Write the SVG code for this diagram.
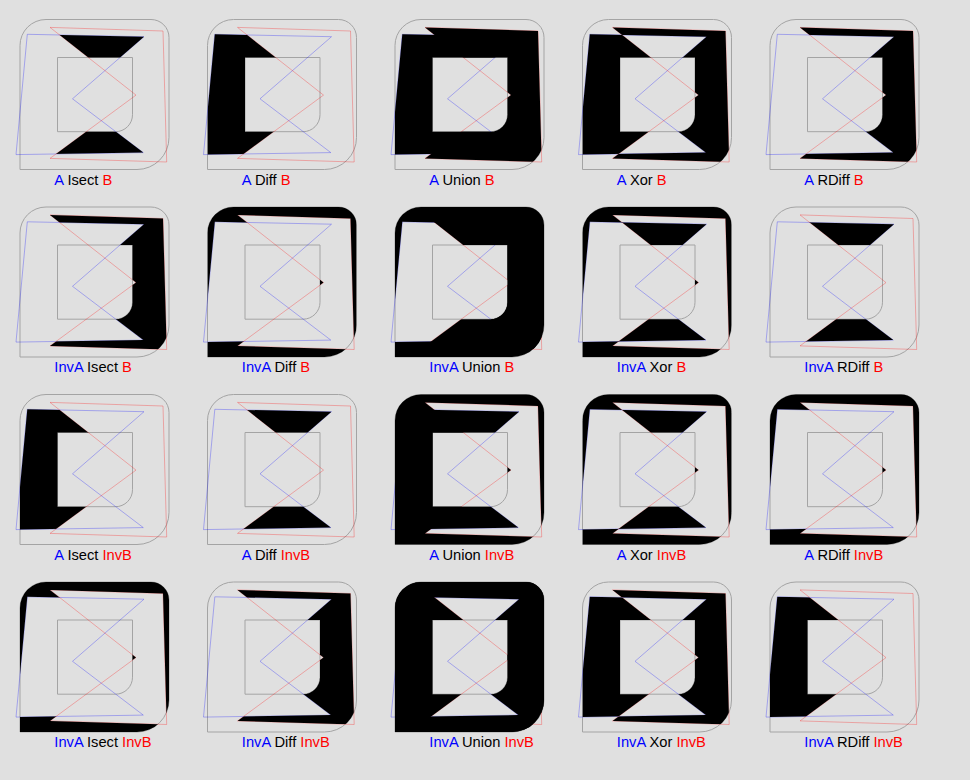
<svg xmlns="http://www.w3.org/2000/svg" xmlns:xlink="http://www.w3.org/1999/xlink" width="970" height="780" viewBox="0 0 970 780">
<style>
.f{fill:none;stroke:#a4a4a4;stroke-width:1}
.a{fill:none;stroke:#0000ff;stroke-opacity:.28;stroke-width:1}
.b{fill:none;stroke:#ff0000;stroke-opacity:.28;stroke-width:1}
.k{fill:#000}
text{font-family:"Liberation Sans",Arial,sans-serif;font-size:14.7px;fill:#000}
.ta{fill:#0000ff}.tb{fill:#ff0000}
</style>
<defs>
<path id="pA" d="M27.3,34.3 L144,36.7 L72.5,98.8 L143.3,152.6 L16,154.6 Z"/>
<path id="pB" d="M50,27.4 L163,31 L166.7,162 L50,158.4 L136,95.1 Z"/>
<path id="pF" d="M20,45.5 A26,26 0 0 1 46,19.5 H151 A18,18 0 0 1 169,37.5 V137.5 A32,32 0 0 1 137,169.5 H20 Z M57.5,57.5 H132.5 V114.7 A17,17 0 0 1 115.5,131.7 H57.5 Z"/>
<rect id="full" x="0" y="0" width="190" height="190"/>
<clipPath id="frame"><path clip-rule="evenodd" d="M20,45.5 A26,26 0 0 1 46,19.5 H151 A18,18 0 0 1 169,37.5 V137.5 A32,32 0 0 1 137,169.5 H20 Z M57.5,57.5 H132.5 V114.7 A17,17 0 0 1 115.5,131.7 H57.5 Z"/></clipPath>
<clipPath id="cA"><path d="M27.3,34.3 L144,36.7 L72.5,98.8 L143.3,152.6 L16,154.6 Z"/></clipPath>
<clipPath id="cB"><path d="M50,27.4 L163,31 L166.7,162 L50,158.4 L136,95.1 Z"/></clipPath>
<clipPath id="cnA"><path clip-rule="evenodd" d="M0,0 H190 V190 H0 Z M27.3,34.3 L144,36.7 L72.5,98.8 L143.3,152.6 L16,154.6 Z"/></clipPath>
<clipPath id="cnB"><path clip-rule="evenodd" d="M0,0 H190 V190 H0 Z M50,27.4 L163,31 L166.7,162 L50,158.4 L136,95.1 Z"/></clipPath>
<g id="base"><use xlink:href="#pF" class="f"/><use xlink:href="#pA" class="a"/><use xlink:href="#pB" class="b"/></g>
</defs>
<rect width="970" height="780" fill="#e0e0e0"/>

<!-- Row 1: A , B -->
<g id="r1c1"><use xlink:href="#base"/>
<g clip-path="url(#frame)"><g clip-path="url(#cA)"><use xlink:href="#full" class="k" clip-path="url(#cB)"/></g></g>
<text x="54.3" y="184.5"><tspan class="ta">A</tspan> Isect <tspan class="tb">B</tspan></text></g>
<g id="r1c2" transform="translate(187.5,0)"><use xlink:href="#base"/>
<g clip-path="url(#frame)"><g clip-path="url(#cA)"><use xlink:href="#full" class="k" clip-path="url(#cnB)"/></g></g>
<text x="54.3" y="184.5"><tspan class="ta">A</tspan> Diff <tspan class="tb">B</tspan></text></g>
<g id="r1c3" transform="translate(375,0)"><use xlink:href="#base"/>
<g clip-path="url(#frame)"><use xlink:href="#full" class="k" clip-path="url(#cA)"/><use xlink:href="#full" class="k" clip-path="url(#cB)"/></g>
<text x="54.3" y="184.5"><tspan class="ta">A</tspan> Union <tspan class="tb">B</tspan></text></g>
<g id="r1c4" transform="translate(562.5,0)"><use xlink:href="#base"/>
<g clip-path="url(#frame)"><g clip-path="url(#cA)"><use xlink:href="#full" class="k" clip-path="url(#cnB)"/></g><g clip-path="url(#cnA)"><use xlink:href="#full" class="k" clip-path="url(#cB)"/></g></g>
<text x="54.3" y="184.5"><tspan class="ta">A</tspan> Xor <tspan class="tb">B</tspan></text></g>
<g id="r1c5" transform="translate(750,0)"><use xlink:href="#base"/>
<g clip-path="url(#frame)"><g clip-path="url(#cnA)"><use xlink:href="#full" class="k" clip-path="url(#cB)"/></g></g>
<text x="54.3" y="184.5"><tspan class="ta">A</tspan> RDiff <tspan class="tb">B</tspan></text></g>

<!-- Row 2: InvA , B -->
<g id="r2c1" transform="translate(0,187.5)"><use xlink:href="#base"/>
<g clip-path="url(#frame)"><g clip-path="url(#cnA)"><use xlink:href="#full" class="k" clip-path="url(#cB)"/></g></g>
<text x="54.3" y="184.5"><tspan class="ta">InvA</tspan> Isect <tspan class="tb">B</tspan></text></g>
<g id="r2c2" transform="translate(187.5,187.5)"><use xlink:href="#base"/>
<g clip-path="url(#frame)"><g clip-path="url(#cnA)"><use xlink:href="#full" class="k" clip-path="url(#cnB)"/></g></g>
<text x="54.3" y="184.5"><tspan class="ta">InvA</tspan> Diff <tspan class="tb">B</tspan></text></g>
<g id="r2c3" transform="translate(375,187.5)"><use xlink:href="#base"/>
<g clip-path="url(#frame)"><use xlink:href="#full" class="k" clip-path="url(#cnA)"/><use xlink:href="#full" class="k" clip-path="url(#cB)"/></g>
<text x="54.3" y="184.5"><tspan class="ta">InvA</tspan> Union <tspan class="tb">B</tspan></text></g>
<g id="r2c4" transform="translate(562.5,187.5)"><use xlink:href="#base"/>
<g clip-path="url(#frame)"><g clip-path="url(#cnA)"><use xlink:href="#full" class="k" clip-path="url(#cnB)"/></g><g clip-path="url(#cA)"><use xlink:href="#full" class="k" clip-path="url(#cB)"/></g></g>
<text x="54.3" y="184.5"><tspan class="ta">InvA</tspan> Xor <tspan class="tb">B</tspan></text></g>
<g id="r2c5" transform="translate(750,187.5)"><use xlink:href="#base"/>
<g clip-path="url(#frame)"><g clip-path="url(#cA)"><use xlink:href="#full" class="k" clip-path="url(#cB)"/></g></g>
<text x="54.3" y="184.5"><tspan class="ta">InvA</tspan> RDiff <tspan class="tb">B</tspan></text></g>

<!-- Row 3: A , InvB -->
<g id="r3c1" transform="translate(0,375)"><use xlink:href="#base"/>
<g clip-path="url(#frame)"><g clip-path="url(#cA)"><use xlink:href="#full" class="k" clip-path="url(#cnB)"/></g></g>
<text x="54.3" y="184.5"><tspan class="ta">A</tspan> Isect <tspan class="tb">InvB</tspan></text></g>
<g id="r3c2" transform="translate(187.5,375)"><use xlink:href="#base"/>
<g clip-path="url(#frame)"><g clip-path="url(#cA)"><use xlink:href="#full" class="k" clip-path="url(#cB)"/></g></g>
<text x="54.3" y="184.5"><tspan class="ta">A</tspan> Diff <tspan class="tb">InvB</tspan></text></g>
<g id="r3c3" transform="translate(375,375)"><use xlink:href="#base"/>
<g clip-path="url(#frame)"><use xlink:href="#full" class="k" clip-path="url(#cA)"/><use xlink:href="#full" class="k" clip-path="url(#cnB)"/></g>
<text x="54.3" y="184.5"><tspan class="ta">A</tspan> Union <tspan class="tb">InvB</tspan></text></g>
<g id="r3c4" transform="translate(562.5,375)"><use xlink:href="#base"/>
<g clip-path="url(#frame)"><g clip-path="url(#cA)"><use xlink:href="#full" class="k" clip-path="url(#cB)"/></g><g clip-path="url(#cnA)"><use xlink:href="#full" class="k" clip-path="url(#cnB)"/></g></g>
<text x="54.3" y="184.5"><tspan class="ta">A</tspan> Xor <tspan class="tb">InvB</tspan></text></g>
<g id="r3c5" transform="translate(750,375)"><use xlink:href="#base"/>
<g clip-path="url(#frame)"><g clip-path="url(#cnA)"><use xlink:href="#full" class="k" clip-path="url(#cnB)"/></g></g>
<text x="54.3" y="184.5"><tspan class="ta">A</tspan> RDiff <tspan class="tb">InvB</tspan></text></g>

<!-- Row 4: InvA , InvB -->
<g id="r4c1" transform="translate(0,562.5)"><use xlink:href="#base"/>
<g clip-path="url(#frame)"><g clip-path="url(#cnA)"><use xlink:href="#full" class="k" clip-path="url(#cnB)"/></g></g>
<text x="54.3" y="184.5"><tspan class="ta">InvA</tspan> Isect <tspan class="tb">InvB</tspan></text></g>
<g id="r4c2" transform="translate(187.5,562.5)"><use xlink:href="#base"/>
<g clip-path="url(#frame)"><g clip-path="url(#cnA)"><use xlink:href="#full" class="k" clip-path="url(#cB)"/></g></g>
<text x="54.3" y="184.5"><tspan class="ta">InvA</tspan> Diff <tspan class="tb">InvB</tspan></text></g>
<g id="r4c3" transform="translate(375,562.5)"><use xlink:href="#base"/>
<g clip-path="url(#frame)"><use xlink:href="#full" class="k" clip-path="url(#cnA)"/><use xlink:href="#full" class="k" clip-path="url(#cnB)"/></g>
<text x="54.3" y="184.5"><tspan class="ta">InvA</tspan> Union <tspan class="tb">InvB</tspan></text></g>
<g id="r4c4" transform="translate(562.5,562.5)"><use xlink:href="#base"/>
<g clip-path="url(#frame)"><g clip-path="url(#cnA)"><use xlink:href="#full" class="k" clip-path="url(#cB)"/></g><g clip-path="url(#cA)"><use xlink:href="#full" class="k" clip-path="url(#cnB)"/></g></g>
<text x="54.3" y="184.5"><tspan class="ta">InvA</tspan> Xor <tspan class="tb">InvB</tspan></text></g>
<g id="r4c5" transform="translate(750,562.5)"><use xlink:href="#base"/>
<g clip-path="url(#frame)"><g clip-path="url(#cA)"><use xlink:href="#full" class="k" clip-path="url(#cnB)"/></g></g>
<text x="54.3" y="184.5"><tspan class="ta">InvA</tspan> RDiff <tspan class="tb">InvB</tspan></text></g>
</svg>
